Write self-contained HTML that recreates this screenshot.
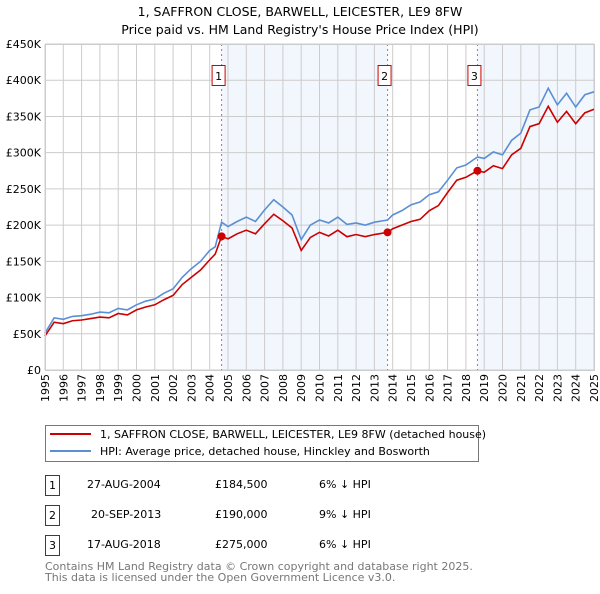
<!DOCTYPE html>
<html><head><meta charset="utf-8"><style>
body{margin:0;background:#fff;font-family:"DejaVu Sans","Liberation Sans",sans-serif;}
svg text{font-family:"DejaVu Sans","Liberation Sans",sans-serif;}
</style></head><body>
<svg id="c" width="600" height="590" xmlns="http://www.w3.org/2000/svg">
<text x="300" y="16" text-anchor="middle" font-size="12.5">1, SAFFRON CLOSE, BARWELL, LEICESTER, LE9 8FW</text>
<text x="300" y="34" text-anchor="middle" font-size="12.5">Price paid vs. HM Land Registry's House Price Index (HPI)</text>
<g id="plot"></g>
<g>
<rect x="45.5" y="425.5" width="433" height="36" fill="#fff" stroke="#777"/>
<line x1="50" y1="434" x2="91" y2="434" stroke="#cc0000" stroke-width="2"/>
<text x="100" y="438" font-size="11">1, SAFFRON CLOSE, BARWELL, LEICESTER, LE9 8FW (detached house)</text>
<line x1="50" y1="451" x2="91" y2="451" stroke="#5b8fd4" stroke-width="2"/>
<text x="100" y="455" font-size="11">HPI: Average price, detached house, Hinckley and Bosworth</text>
</g>
<g font-size="11">
<rect x="45.5" y="475.5" width="14" height="20" fill="#fff" stroke="#cc0000"/><text x="52.5" y="489" text-anchor="middle">1</text>
<text x="87" y="488">27-AUG-2004</text><text x="215" y="488">£184,500</text><text x="319" y="488">6% ↓ HPI</text>
<rect x="45.5" y="505.5" width="14" height="20" fill="#fff" stroke="#cc0000"/><text x="52.5" y="519" text-anchor="middle">2</text>
<text x="91" y="518">20-SEP-2013</text><text x="215" y="518">£190,000</text><text x="319" y="518">9% ↓ HPI</text>
<rect x="45.5" y="535.5" width="14" height="20" fill="#fff" stroke="#cc0000"/><text x="52.5" y="549" text-anchor="middle">3</text>
<text x="87" y="548">17-AUG-2018</text><text x="215" y="548">£275,000</text><text x="319" y="548">6% ↓ HPI</text>
</g>
<text x="45" y="570" font-size="11" fill="#777">Contains HM Land Registry data © Crown copyright and database right 2025.</text>
<text x="45" y="581" font-size="11" fill="#777">This data is licensed under the Open Government Licence v3.0.</text>
</svg>
<script>
const hpiYears=[1995,1995.5,1996,1996.5,1997,1997.5,1998,1998.5,1999,1999.5,2000,2000.5,2001,2001.5,2002,2002.5,2003,2003.5,2004,2004.3,2004.65,2005,2005.5,2006,2006.5,2007,2007.5,2008,2008.5,2009,2009.5,2010,2010.5,2011,2011.5,2012,2012.5,2013,2013.72,2014,2014.5,2015,2015.5,2016,2016.5,2017,2017.5,2018,2018.63,2019,2019.5,2020,2020.5,2021,2021.5,2022,2022.5,2023,2023.5,2024,2024.5,2025];
const hpiValues=[51000,72000,70000,74000,75000,77000,80000,79000,85000,83000,90000,95000,98000,106000,112000,128000,140000,150000,165000,170000,204000,198000,205000,211000,205000,221000,235000,225000,214000,180000,200000,207000,203000,211000,201000,203000,200000,204000,207000,214000,220000,228000,232000,242000,246000,262000,279000,283000,294000,292000,301000,297000,317000,327000,359000,363000,389000,366000,382000,363000,380000,384000];
const propValues=[47000,66000,64000,68000,69000,71000,73000,72000,78000,76000,83000,87000,90000,97000,103000,118000,128000,138000,152000,160000,184500,181000,188000,193000,188000,202000,215000,206000,196000,165000,183000,190000,185000,193000,184000,187000,184000,187000,190000,195000,200000,205000,208000,220000,227000,245000,262000,266000,275000,273000,282000,278000,297000,306000,336000,340000,364000,342000,357000,340000,355000,360000];
const saleYears=[2004.65,2013.72,2018.63];
const saleValues=[184500,190000,275000];
const saleLabels=["1","2","3"];
const yTicks=[0,50000,100000,150000,200000,250000,300000,350000,400000,450000];
const yTickLabels=["£0","£50K","£100K","£150K","£200K","£250K","£300K","£350K","£400K","£450K"];
const xTicks=[1995,1996,1997,1998,1999,2000,2001,2002,2003,2004,2005,2006,2007,2008,2009,2010,2011,2012,2013,2014,2015,2016,2017,2018,2019,2020,2021,2022,2023,2024,2025];
const X0=45,X1=594,Y0=370,Y1=44;
const xs=v=>X0+(v-1995)/30*(X1-X0);
const ys=v=>Y0-v/450000*(Y0-Y1);
const NS="http://www.w3.org/2000/svg";
const g=document.getElementById('plot');
function mk(t,a){const e=document.createElementNS(NS,t);for(const k in a)e.setAttribute(k,a[k]);g.appendChild(e);return e;}
let e=mk('rect',{x:X0,y:Y1,width:X1-X0,height:Y0-Y1,fill:'#fff'});


e=mk('rect',{x:xs(saleYears[0]),y:Y1,width:xs(saleYears[1])-xs(saleYears[0]),height:Y0-Y1,fill:'#eef3fc',opacity:0.75});


e=mk('rect',{x:xs(saleYears[2]),y:Y1,width:X1-xs(saleYears[2]),height:Y0-Y1,fill:'#eef3fc',opacity:0.75});


yTicks.forEach((t,i)=>{
 e=mk('line',{x1:X0,x2:X1,y1:ys(t),y2:ys(t),stroke:'#cccccc','stroke-width':1});
 
 
 e=mk('text',{x:X0-4,y:ys(t)+4,'text-anchor':'end','font-size':11});
 e.textContent=yTickLabels[i];
 
 
});
xTicks.forEach(t=>{
 e=mk('line',{x1:xs(t),x2:xs(t),y1:Y1,y2:Y0,stroke:'#cccccc','stroke-width':1});
 
 
 const tx=xs(t)+4, ty=Y0+4;
 e=mk('text',{x:tx,y:ty,'text-anchor':'end','font-size':11,transform:'rotate(-90 '+tx+' '+ty+')'});
 e.textContent=t;
 
 
});
saleYears.forEach((s,i)=>{
 e=mk('line',{x1:xs(s),x2:xs(s),y1:Y1,y2:Y0,stroke:'#e06060','stroke-width':1,'stroke-dasharray':'2,3'});
 
 
});
e=mk('polyline',{points:hpiYears.map((y,i)=>xs(y)+','+ys(hpiValues[i])).join(' '),fill:'none',stroke:'#5b8fd4','stroke-width':1.6});


e=mk('polyline',{points:hpiYears.map((y,i)=>xs(y)+','+ys(propValues[i])).join(' '),fill:'none',stroke:'#cc0000','stroke-width':1.6});


saleYears.forEach((s,i)=>{
 e=mk('circle',{cx:xs(s),cy:ys(saleValues[i]),r:4,fill:'#cc0000'});
 
 
 const bx=xs(s)-10;
 e=mk('rect',{x:bx+0.5,y:65.5,width:13,height:20,fill:'#fff',stroke:'#cc0000'});
 
 
 e=mk('text',{x:bx+7,y:80,'text-anchor':'middle','font-size':11});
 e.textContent=saleLabels[i];
 
 
});
e=mk('rect',{x:X0+0.5,y:Y1+0.5,width:X1-X0,height:Y0-Y1,fill:'none',stroke:'#cccccc'});


</script>
</body></html>
